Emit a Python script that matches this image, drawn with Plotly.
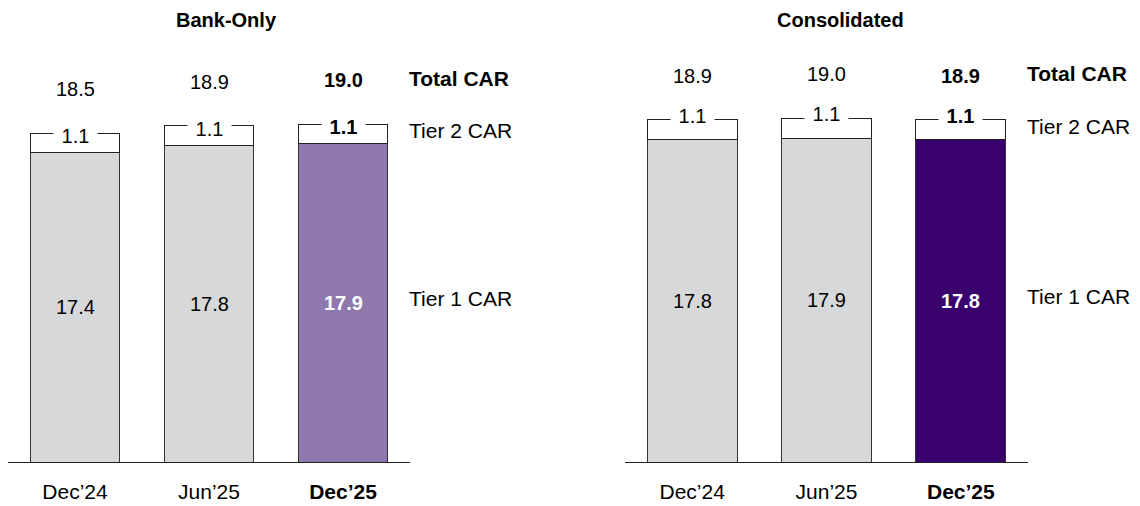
import plotly.graph_objects as go

categories = ["Dec’24", "Jun’25", "Dec’25"]
panel_titles = ["Bank-Only", "Consolidated"]
series_names = ["Total CAR", "Tier 2 CAR", "Tier 1 CAR"]

bank_tier1 = [17.4, 17.8, 17.9]
bank_tier2 = [1.1, 1.1, 1.1]
bank_total = [18.5, 18.9, 19.0]

cons_tier1 = [17.8, 17.9, 17.8]
cons_tier2 = [1.1, 1.1, 1.1]
cons_total = [18.9, 19.0, 18.9]

FONT = "Liberation Sans, Arial, sans-serif"
FS = 20        # values
FS_LAB = 21    # series labels and ticks
FS_TITLE = 20
GRAY = "#D7D8DA"
HIGHLIGHT = ["#8F78AE", "#3A006E"]
NB = "\u00a0"

W, H = 1140, 506
fig = go.Figure()

panels = [
    dict(t1=bank_tier1, t2=bank_tier2, tot=bank_total, xl=8, xr=410, ppu=17.78, t2shift=-3),
    dict(t1=cons_tier1, t2=cons_tier2, tot=cons_total, xl=625, xr=1028, ppu=18.1, t2shift=4),
]
y_bottom_px, y_top_px = 462, 40

annotations = []
for i, p in enumerate(panels):
    xa = "x" if i == 0 else "x2"
    ya = "y" if i == 0 else "y2"
    colors = [GRAY, GRAY, HIGHLIGHT[i]]
    fig.add_trace(go.Bar(x=categories, y=p["t1"], marker=dict(color=colors, line=dict(color="#333333", width=1)),
                         xaxis=xa, yaxis=ya, hoverinfo="skip", showlegend=False))
    fig.add_trace(go.Bar(x=categories, y=p["t2"], marker=dict(color="white", line=dict(color="#222222", width=1)),
                         xaxis=xa, yaxis=ya, hoverinfo="skip", showlegend=False))
    n = len(categories)
    for j, c in enumerate(categories):
        last = j == n - 1
        b = (lambda s: f"<b>{s}</b>") if last else (lambda s: s)
        annotations.append(dict(x=c, y=p["t1"][j] / 2, xref=xa, yref=ya, text=b(f"{p['t1'][j]:.1f}"),
                                showarrow=False, font=dict(family=FONT, size=FS,
                                color="white" if last else "black")))
        annotations.append(dict(x=c, y=p["t1"][j] + p["t2"][j], xref=xa, yref=ya,
                                text=NB + b(f"{p['t2'][j]:.1f}") + NB,
                                showarrow=False, bgcolor="white", borderpad=2, yshift=p["t2shift"],
                                font=dict(family=FONT, size=FS, color="black")))
        annotations.append(dict(x=c, y=p["tot"][j], xref=xa, yref=ya, text=b(f"{p['tot'][j]:.1f}"),
                                showarrow=False, yshift=44,
                                font=dict(family=FONT, size=FS, color="black")))
    lc = categories[-1]
    label_y = [p["tot"][-1], p["t1"][-1] + p["t2"][-1] / 2, p["t1"][-1] / 2]
    label_shift = [46, 3, 4]
    for k, name in enumerate(series_names):
        annotations.append(dict(x=lc, y=label_y[k], xref=xa, yref=ya, xanchor="left",
                                text=f"<b>{name}</b>" if k == 0 else name, xshift=64, yshift=label_shift[k],
                                showarrow=False, font=dict(family=FONT, size=FS_LAB, color="black")))

title_x = [226, 840]
for i, t in enumerate(panel_titles):
    annotations.append(dict(x=title_x[i] / W, y=1 - 20 / H, xref="paper", yref="paper", text=f"<b>{t}</b>",
                            xanchor="center", yanchor="middle", showarrow=False,
                            font=dict(family=FONT, size=FS_TITLE, color="black")))

layout_axes = {}
for i, p in enumerate(panels):
    sfx = "" if i == 0 else "2"
    layout_axes["xaxis" + sfx] = dict(
        domain=[p["xl"] / W, p["xr"] / W], type="category", range=[-0.5, 2.5],
        showline=True, linecolor="#222222", linewidth=1.3, showgrid=False, zeroline=False,
        tickmode="array", tickvals=categories,
        ticktext=[c if j < len(categories) - 1 else f"<b>{c}</b>" for j, c in enumerate(categories)],
        ticks="outside", ticklen=11, tickcolor="rgba(0,0,0,0)",
        tickfont=dict(family=FONT, size=FS_LAB, color="black"), anchor="y" + sfx, fixedrange=True)
    layout_axes["yaxis" + sfx] = dict(
        domain=[(H - y_bottom_px) / H, (H - y_top_px) / H],
        range=[0, (y_bottom_px - y_top_px) / p["ppu"]], visible=False, showgrid=False, zeroline=False,
        anchor="x" + sfx, fixedrange=True)

fig.update_layout(
    width=W, height=H, margin=dict(l=0, r=0, t=0, b=0), barmode="stack", bargap=0.33,
    plot_bgcolor="white", paper_bgcolor="white", showlegend=False,
    annotations=annotations, font=dict(family=FONT, size=FS, color="black"), **layout_axes)

fig.write_html("out.html", config={"displayModeBar": False})
